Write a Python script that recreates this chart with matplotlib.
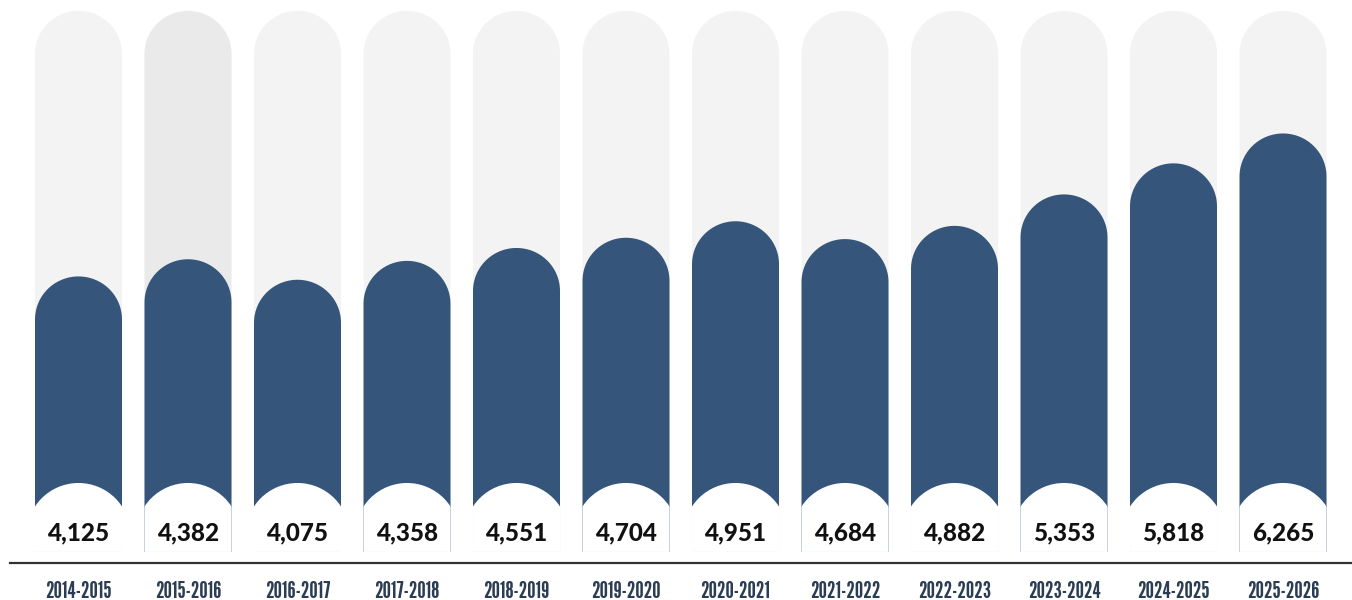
import numpy as np
import matplotlib.pyplot as plt
from matplotlib.patches import Polygon, Ellipse

seasons = ['2014-2015', '2015-2016', '2016-2017', '2017-2018', '2018-2019', '2019-2020',
           '2020-2021', '2021-2022', '2022-2023', '2023-2024', '2024-2025', '2025-2026']
values = [4125, 4382, 4075, 4358, 4551, 4704, 4951, 4684, 4882, 5353, 5818, 6265]
track_max = 8100

BLUE = '#35567a'
TRACK = '#f3f3f3'
TRACK_HI = '#eaeaea'

fig = plt.figure(figsize=(13.52, 6), dpi=100)
ax = fig.add_axes([10 / 1352, 37 / 600, 1342 / 1352, 563 / 600])
ax.set_xlim(-0.6256, 11.63)
ax.set_ylim(-165, 8263)

# pixels per data unit, so round caps stay round
p0 = ax.transData.transform((0, 0))
p1 = ax.transData.transform((1, 1))
ux, uy = p1[0] - p0[0], p1[1] - p0[1]

bar_w = 87 / ux          # bar width in category units
cap_ry = 43 / uy         # cap height in value units
cut_r = 52               # radius of white bottom notch, px
cut_cy = 17 / uy         # notch centre above baseline


def pill(x, top, color, z):
    t = np.linspace(0, np.pi, 60)
    xs = x + bar_w / 2 * np.cos(t)
    ys = top - cap_ry + cap_ry * np.sin(t)
    pts = [(x + bar_w / 2, 0)] + list(zip(xs, ys)) + [(x - bar_w / 2, 0)]
    p = Polygon(pts, closed=True, facecolor=color, edgecolor='none', zorder=z)
    ax.add_patch(p)
    return p


for i, v in enumerate(values):
    tc = TRACK_HI if i == 1 else TRACK
    track = pill(i, track_max, tc, 1)
    pill(i, v, BLUE, 2)
    notch = Ellipse((i, cut_cy), 2 * cut_r / ux, 2 * cut_r / uy,
                    facecolor='white', edgecolor='none', zorder=3)
    ax.add_patch(notch)
    notch.set_clip_path(track)
    ax.annotate(f'{v:,}', (i, 0), xytext=(0, 8.5), textcoords='offset points',
                ha='center', va='baseline', fontsize=17.5, fontweight=900,
                family=['Lato', 'DejaVu Sans'], color='#111111', zorder=4)

ax.set_xticks(range(len(seasons)))
ax.set_xticklabels(seasons, fontsize=17, color='#2b3d52',
                   family=['League Gothic', 'Liberation Sans Narrow', 'DejaVu Sans'])
ax.tick_params(axis='x', length=0, pad=13)
ax.set_yticks([])
for s in ['top', 'left', 'right']:
    ax.spines[s].set_visible(False)
ax.spines['bottom'].set_linewidth(1.6)
ax.spines['bottom'].set_color('#333333')
ax.set_facecolor('white')

fig.savefig('out.png', dpi=100)
